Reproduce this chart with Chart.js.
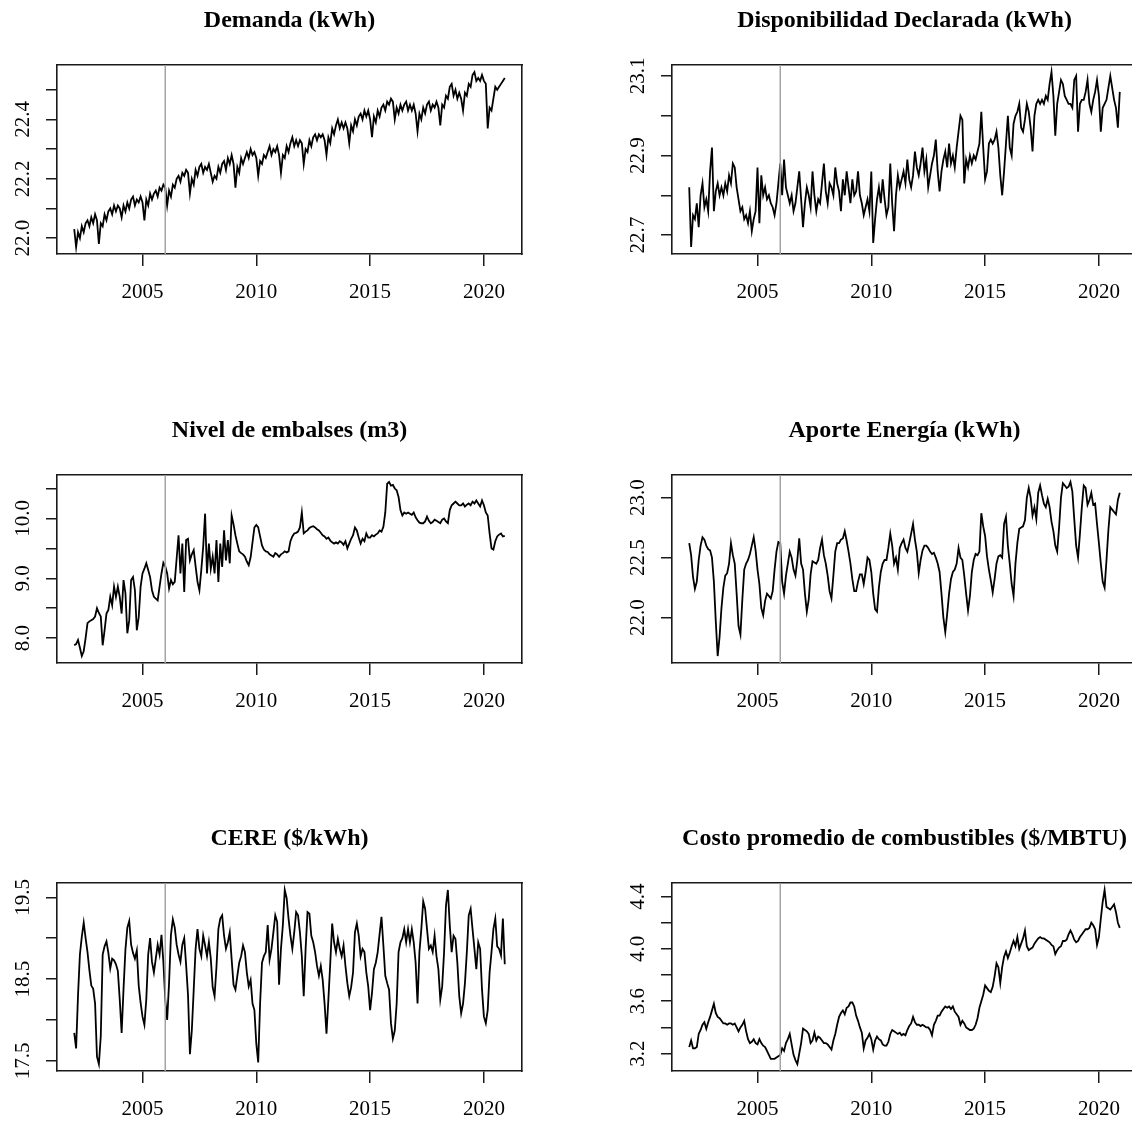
<!DOCTYPE html>
<html>
<head>
<meta charset="utf-8">
<script src="https://cdn.jsdelivr.net/npm/chart.js@4.4.1/dist/chart.umd.min.js"></script>
<style>
  html, body { margin: 0; padding: 0; background: #ffffff; overflow: hidden; width: 1132px; height: 1125px; }
  .panel { position: absolute; }
  .panel canvas { display: block; }
</style>
</head>
<body>
<div class="panel" id="p0"><canvas id="c0"></canvas></div>
<div class="panel" id="p1"><canvas id="c1"></canvas></div>
<div class="panel" id="p2"><canvas id="c2"></canvas></div>
<div class="panel" id="p3"><canvas id="c3"></canvas></div>
<div class="panel" id="p4"><canvas id="c4"></canvas></div>
<div class="panel" id="p5"><canvas id="c5"></canvas></div>
<script>
// ---------------- DATA ----------------
const startYear = 2002;          // first observation: January 2002
const monthsPerYear = 12;        // monthly series
const referenceYear = 2006;      // grey vertical reference line
const xTickValues = [2005, 2010, 2015, 2020];

const titles = [
  "Demanda (kWh)",
  "Disponibilidad Declarada (kWh)",
  "Nivel de embalses (m3)",
  "Aporte Energía (kWh)",
  "CERE ($/kWh)",
  "Costo promedio de combustibles ($/MBTU)"
];

const demanda = [
  22.03,21.97,22.02,22.00,22.04,22.02,22.05,22.06,22.04,22.07,22.05,22.08,
  22.06,21.98,22.05,22.04,22.08,22.06,22.09,22.10,22.08,22.11,22.09,22.11,
  22.10,22.07,22.11,22.09,22.12,22.10,22.13,22.14,22.11,22.13,22.12,22.14,
  22.12,22.06,22.13,22.11,22.15,22.13,22.15,22.16,22.14,22.17,22.16,22.18,
  22.17,22.11,22.16,22.14,22.18,22.17,22.20,22.21,22.19,22.22,22.21,22.23,
  22.22,22.15,22.20,22.18,22.23,22.21,22.24,22.25,22.22,22.24,22.23,22.25,
  22.22,22.19,22.21,22.20,22.24,22.22,22.25,22.26,22.23,22.27,22.25,22.28,
  22.25,22.17,22.24,22.22,22.27,22.25,22.27,22.29,22.27,22.30,22.28,22.29,
  22.27,22.21,22.26,22.25,22.28,22.27,22.29,22.31,22.28,22.30,22.29,22.31,
  22.28,22.22,22.28,22.27,22.31,22.29,22.32,22.34,22.31,22.33,22.31,22.33,
  22.32,22.25,22.30,22.29,22.33,22.31,22.34,22.35,22.33,22.35,22.34,22.35,
  22.33,22.28,22.34,22.32,22.37,22.35,22.38,22.40,22.37,22.39,22.37,22.39,
  22.37,22.32,22.38,22.36,22.40,22.38,22.41,22.42,22.40,22.43,22.41,22.43,
  22.40,22.34,22.41,22.39,22.43,22.41,22.44,22.45,22.43,22.46,22.45,22.47,
  22.46,22.40,22.44,22.42,22.45,22.43,22.45,22.46,22.43,22.45,22.43,22.45,
  22.42,22.36,22.42,22.40,22.44,22.42,22.45,22.46,22.43,22.45,22.44,22.46,
  22.44,22.38,22.45,22.44,22.48,22.47,22.51,22.52,22.48,22.50,22.47,22.49,
  22.47,22.43,22.49,22.48,22.52,22.51,22.55,22.56,22.53,22.54,22.53,22.55,
  22.53,22.52,22.37,22.44,22.43,22.47,22.51,22.50,22.51,22.52,22.53,22.54
];

const disponibilidad = [
  22.82,22.67,22.75,22.74,22.78,22.72,22.80,22.83,22.77,22.79,22.76,22.86,
  22.92,22.76,22.81,22.83,22.80,22.82,22.80,22.83,22.81,22.85,22.83,22.88,
  22.87,22.82,22.79,22.76,22.77,22.74,22.75,22.73,22.76,22.71,22.74,22.76,
  22.87,22.73,22.85,22.80,22.82,22.79,22.80,22.78,22.77,22.75,22.78,22.83,
  22.88,22.80,22.89,22.82,22.80,22.78,22.80,22.76,22.78,22.82,22.86,22.79,
  22.72,22.78,22.82,22.80,22.77,22.86,22.80,22.76,22.79,22.78,22.83,22.88,
  22.81,22.78,22.83,22.82,22.80,22.87,22.83,22.81,22.76,22.84,22.80,22.86,
  22.82,22.78,22.84,22.80,22.81,22.86,22.80,22.78,22.75,22.77,22.79,22.76,
  22.86,22.68,22.74,22.79,22.82,22.78,22.84,22.79,22.75,22.77,22.88,22.78,
  22.71,22.80,22.85,22.82,22.84,22.86,22.83,22.89,22.84,22.82,22.85,22.91,
  22.87,22.85,22.88,22.92,22.86,22.89,22.82,22.85,22.88,22.90,22.94,22.86,
  22.81,22.86,22.89,22.91,22.87,22.93,22.88,22.90,22.87,22.92,22.96,23.00,
  22.99,22.83,22.89,22.87,22.90,22.88,22.90,22.89,22.91,22.93,23.01,22.92,
  22.84,22.86,22.93,22.94,22.93,22.94,22.96,22.92,22.85,22.80,22.86,22.93,
  23.00,22.92,22.90,22.98,23.00,23.01,23.03,22.97,22.96,22.99,23.03,23.01,
  22.97,22.91,23.00,23.03,23.04,23.03,23.04,23.03,23.05,23.04,23.08,23.11,
  23.05,22.95,23.03,23.06,23.09,23.08,23.05,23.04,23.03,23.03,23.02,23.09,
  23.10,22.96,23.03,23.04,23.04,23.06,23.09,23.03,23.01,23.04,23.06,23.09,
  23.05,22.96,23.02,23.03,23.04,23.07,23.10,23.07,23.04,23.02,22.97,23.06
];

const nivelEmbalses = [
  7.88,7.90,7.97,7.84,7.70,7.78,8.00,8.25,8.28,8.30,8.32,8.36,
  8.50,8.42,8.36,7.88,8.13,8.41,8.47,8.69,8.55,8.86,8.69,8.86,
  8.69,8.41,8.97,8.75,8.08,8.30,8.97,9.02,8.80,8.13,8.35,8.86,
  9.08,9.16,9.25,9.14,9.02,8.80,8.69,8.66,8.63,8.86,9.08,9.26,
  9.20,9.08,8.83,8.97,8.90,8.94,9.33,9.72,9.08,9.58,8.77,9.64,
  9.66,9.30,9.40,9.47,9.20,8.94,8.80,9.14,9.53,10.08,9.08,9.58,
  9.16,9.36,9.08,9.64,8.94,9.58,9.19,9.80,9.30,9.64,9.25,10.05,
  9.90,9.72,9.58,9.45,9.42,9.40,9.36,9.28,9.22,9.35,9.60,9.85,
  9.89,9.85,9.70,9.55,9.48,9.45,9.44,9.40,9.38,9.36,9.42,9.40,
  9.36,9.40,9.42,9.45,9.43,9.45,9.62,9.70,9.75,9.76,9.78,9.85,
  10.10,9.75,9.78,9.80,9.84,9.86,9.87,9.85,9.82,9.80,9.76,9.72,
  9.70,9.66,9.68,9.63,9.60,9.58,9.60,9.58,9.62,9.60,9.56,9.62,
  9.50,9.58,9.66,9.72,9.85,9.80,9.68,9.58,9.66,9.62,9.75,9.68,
  9.68,9.72,9.70,9.73,9.75,9.80,9.78,9.86,10.10,10.58,10.61,10.55,
  10.56,10.50,10.47,10.36,10.14,10.05,10.10,10.08,10.10,10.08,10.06,10.10,
  10.02,9.97,9.93,9.92,9.92,9.95,10.03,9.96,9.92,9.94,9.98,9.96,
  9.94,9.92,9.98,10.00,9.95,9.92,10.14,10.22,10.25,10.28,10.25,10.22,
  10.22,10.25,10.20,10.23,10.25,10.22,10.28,10.25,10.30,10.25,10.20,10.30,
  10.22,10.10,10.05,9.75,9.50,9.48,9.62,9.70,9.73,9.75,9.70,9.71
];

const aporteEnergia = [
  22.62,22.52,22.34,22.24,22.30,22.48,22.60,22.67,22.65,22.60,22.57,22.56,
  22.50,22.30,21.97,21.68,21.84,22.08,22.25,22.35,22.37,22.45,22.62,22.52,
  22.45,22.20,21.93,21.86,22.15,22.40,22.45,22.48,22.53,22.60,22.67,22.56,
  22.40,22.28,22.08,22.02,22.14,22.20,22.18,22.16,22.22,22.40,22.55,22.63,
  22.62,22.30,22.20,22.35,22.45,22.55,22.50,22.40,22.35,22.48,22.66,22.45,
  22.40,22.20,22.05,22.15,22.36,22.47,22.46,22.45,22.48,22.58,22.65,22.52,
  22.45,22.35,22.22,22.16,22.35,22.55,22.62,22.62,22.65,22.66,22.72,22.64,
  22.55,22.45,22.32,22.22,22.22,22.30,22.36,22.36,22.28,22.38,22.50,22.48,
  22.38,22.20,22.07,22.05,22.25,22.38,22.45,22.48,22.48,22.58,22.70,22.60,
  22.45,22.50,22.40,22.58,22.62,22.65,22.58,22.55,22.62,22.70,22.78,22.65,
  22.55,22.37,22.48,22.56,22.60,22.60,22.58,22.55,22.53,22.54,22.50,22.45,
  22.38,22.20,22.00,21.88,22.03,22.20,22.32,22.38,22.40,22.45,22.58,22.50,
  22.48,22.35,22.20,22.06,22.18,22.38,22.48,22.53,22.52,22.55,22.87,22.76,
  22.68,22.51,22.40,22.31,22.21,22.32,22.45,22.51,22.52,22.50,22.78,22.84,
  22.60,22.45,22.28,22.18,22.45,22.62,22.74,22.75,22.76,22.81,23.00,23.08,
  23.00,22.85,22.92,22.82,23.04,23.10,23.02,22.95,22.92,22.99,22.92,22.80,
  22.72,22.60,22.55,22.75,23.00,23.12,23.10,23.08,23.09,23.13,23.05,22.82,
  22.60,22.50,22.70,22.92,23.10,23.08,22.94,22.98,23.04,22.94,22.95,22.78,
  22.62,22.45,22.30,22.25,22.48,22.73,22.92,22.90,22.88,22.86,22.98,23.04
];

const cere = [
  17.84,17.65,18.30,18.80,19.02,19.19,19.00,18.83,18.61,18.42,18.38,18.20,
  17.55,17.46,17.80,18.80,18.90,18.96,18.82,18.63,18.75,18.73,18.68,18.60,
  18.25,17.84,18.38,18.86,19.13,19.21,18.92,18.82,18.75,18.85,18.42,18.21,
  18.04,17.94,18.25,18.80,19.00,18.71,18.58,18.75,18.92,18.80,19.04,18.71,
  18.25,18.00,18.45,19.04,19.23,19.13,18.92,18.80,18.71,18.92,19.00,18.67,
  18.30,17.58,17.87,18.37,18.87,19.11,18.87,18.78,19.03,18.91,18.78,18.95,
  18.75,18.40,18.29,18.65,19.11,19.24,19.28,19.03,18.87,18.95,19.07,18.74,
  18.43,18.37,18.54,18.70,18.78,18.91,18.83,18.58,18.41,18.49,18.20,18.12,
  17.71,17.48,18.20,18.70,18.78,18.83,19.16,18.74,18.87,19.07,19.28,19.20,
  18.43,18.87,19.16,19.59,19.49,19.24,19.03,18.87,19.07,19.32,19.28,19.07,
  18.78,18.29,18.87,19.32,19.30,19.03,18.95,18.83,18.66,18.54,18.66,18.49,
  18.20,17.83,18.25,18.70,19.18,18.95,18.83,18.99,18.87,18.78,18.91,18.66,
  18.45,18.29,18.40,18.58,19.07,19.18,19.03,18.78,18.87,18.83,18.58,18.41,
  18.12,18.33,18.62,18.70,18.83,19.05,19.26,18.91,18.54,18.45,18.37,17.96,
  17.77,17.87,18.20,18.83,18.95,19.00,19.11,18.95,19.11,18.95,19.11,18.95,
  18.70,18.20,18.83,19.11,19.45,19.36,19.11,18.87,18.91,18.83,19.03,18.78,
  18.62,18.25,18.41,18.83,19.40,19.59,19.16,18.83,19.03,18.99,18.70,18.29,
  18.08,18.20,18.45,18.83,19.28,19.36,19.11,18.87,18.62,18.95,18.87,18.37,
  18.04,17.96,18.12,18.58,18.83,19.11,19.24,18.90,18.87,18.79,19.24,18.68
];

const costoCombustibles = [
  3.25,3.30,3.24,3.24,3.25,3.35,3.38,3.42,3.44,3.39,3.44,3.48,
  3.53,3.58,3.51,3.48,3.47,3.45,3.43,3.43,3.42,3.43,3.43,3.42,
  3.43,3.40,3.37,3.40,3.42,3.45,3.37,3.31,3.28,3.29,3.31,3.28,
  3.27,3.31,3.28,3.26,3.25,3.22,3.19,3.16,3.16,3.16,3.17,3.18,
  3.19,3.24,3.22,3.28,3.31,3.35,3.27,3.19,3.15,3.12,3.20,3.28,
  3.39,3.38,3.37,3.35,3.28,3.30,3.36,3.30,3.33,3.32,3.30,3.28,
  3.28,3.27,3.25,3.23,3.30,3.35,3.42,3.48,3.51,3.53,3.50,3.55,
  3.56,3.59,3.59,3.56,3.49,3.45,3.40,3.36,3.24,3.30,3.32,3.35,
  3.31,3.23,3.30,3.33,3.31,3.30,3.27,3.26,3.26,3.29,3.35,3.38,
  3.37,3.36,3.35,3.36,3.34,3.35,3.34,3.38,3.41,3.43,3.48,3.44,
  3.42,3.42,3.41,3.42,3.41,3.40,3.40,3.38,3.34,3.42,3.45,3.49,
  3.49,3.52,3.54,3.56,3.55,3.56,3.54,3.56,3.52,3.50,3.48,3.42,
  3.45,3.43,3.40,3.39,3.38,3.38,3.39,3.42,3.47,3.55,3.60,3.65,
  3.72,3.70,3.68,3.67,3.71,3.79,3.89,3.86,3.74,3.86,3.94,3.98,
  3.93,3.97,4.02,4.06,4.02,4.09,4.00,4.04,4.08,4.14,4.02,3.99,
  4.00,4.01,4.04,4.06,4.08,4.09,4.08,4.08,4.07,4.06,4.05,4.03,
  4.02,3.96,3.99,4.01,4.02,4.06,4.06,4.07,4.11,4.14,4.11,4.07,
  4.05,4.06,4.09,4.11,4.13,4.15,4.15,4.16,4.20,4.18,4.15,4.03,
  4.09,4.23,4.36,4.45,4.32,4.31,4.30,4.32,4.34,4.28,4.20,4.16
];

// y-axis tick positions and the subset R prints as labels
const demandaYTicks = [22.0, 22.1, 22.2, 22.3, 22.4, 22.5];
const demandaYLabels = ["22.0", "22.2", "22.4"];
const disponibilidadYTicks = [22.7, 22.8, 22.9, 23.0, 23.1];
const disponibilidadYLabels = ["22.7", "22.9", "23.1"];
const nivelYTicks = [8.0, 8.5, 9.0, 9.5, 10.0, 10.5];
const nivelYLabels = ["8.0", "9.0", "10.0"];
const aporteYTicks = [22.0, 22.5, 23.0];
const aporteYLabels = ["22.0", "22.5", "23.0"];
const cereYTicks = [17.5, 18.0, 18.5, 19.0, 19.5];
const cereYLabels = ["17.5", "18.5", "19.5"];
const costoYTicks = [3.2, 3.4, 3.6, 3.8, 4.0, 4.2, 4.4];
const costoYLabels = ["3.2", "3.6", "4.0", "4.4"];

// ---------------- LAYOUT / STYLE ----------------
const FONT = "'Liberation Serif', 'Times New Roman', serif";
const TICK_SIZE = 21;
const TITLE_SIZE = 24;
const SIDE = 57;          // width of left axis block (and mirrored right block)
const BOX_W = 465;        // plot box width
const TITLE_BLOCK = 65;   // title block height above the box
const BOTTOM = 60;        // bottom axis block
const Y_LABEL_GAP = 33.4; // distance from box edge to y label centre
const Y_TICK_LEN = 11;
const X_TICK_LEN = 12;
const INK = '#1a1a1a';

Chart.defaults.font.family = FONT;
Chart.defaults.color = '#000';

function widestLabel(labels) {
  const c = document.createElement('canvas').getContext('2d');
  c.font = TICK_SIZE + 'px ' + FONT;
  return Math.max(...labels.map(l => c.measureText(l).width));
}

function rangeWithPad(lo, hi) {
  const p = (hi - lo) * 0.04;   // R's default axis extension
  return [lo - p, hi + p];
}

const panels = [
  { id: 'c0', wrap: 'p0', left: 0,   top: 0,   boxH: 189, title: titles[0], values: demanda,           yTicks: demandaYTicks,        yLabels: demandaYLabels },
  { id: 'c1', wrap: 'p1', left: 615, top: 0,   boxH: 189, title: titles[1], values: disponibilidad,    yTicks: disponibilidadYTicks, yLabels: disponibilidadYLabels },
  { id: 'c2', wrap: 'p2', left: 0,   top: 410, boxH: 188, title: titles[2], values: nivelEmbalses,     yTicks: nivelYTicks,          yLabels: nivelYLabels },
  { id: 'c3', wrap: 'p3', left: 615, top: 410, boxH: 188, title: titles[3], values: aporteEnergia,     yTicks: aporteYTicks,         yLabels: aporteYLabels },
  { id: 'c4', wrap: 'p4', left: 0,   top: 818, boxH: 188, title: titles[4], values: cere,              yTicks: cereYTicks,           yLabels: cereYLabels },
  { id: 'c5', wrap: 'p5', left: 615, top: 818, boxH: 188, title: titles[5], values: costoCombustibles, yTicks: costoYTicks,          yLabels: costoYLabels }
];

panels.forEach(p => {
  const wrap = document.getElementById(p.wrap);
  wrap.style.left = p.left + 'px';
  wrap.style.top = p.top + 'px';
  const canvas = document.getElementById(p.id);
  canvas.width = SIDE * 2 + BOX_W;
  canvas.height = TITLE_BLOCK + p.boxH + BOTTOM;

  const n = p.values.length;
  const xs = p.values.map((v, i) => startYear + i / monthsPerYear);
  const [xMin, xMax] = rangeWithPad(xs[0], xs[n - 1]);
  const [yMin, yMax] = rangeWithPad(Math.min(...p.values), Math.max(...p.values));
  const yPadding = Y_LABEL_GAP - Y_TICK_LEN - widestLabel(p.yLabels) / 2;

  new Chart(canvas, {
    type: 'line',
    data: {
      datasets: [
        {
          label: 'ref',
          data: [{ x: referenceYear, y: yMin }, { x: referenceYear, y: yMax }],
          borderColor: '#a3a3a3',
          borderWidth: 1.5,
          pointRadius: 0,
          order: 0
        },
        {
          label: p.title,
          data: p.values.map((v, i) => ({ x: xs[i], y: v })),
          borderColor: '#000000',
          borderWidth: 1.8,
          pointRadius: 0,
          tension: 0,
          fill: false,
          order: 1
        }
      ]
    },
    options: {
      responsive: false,
      animation: false,
      devicePixelRatio: 1,
      layout: { padding: 0 },
      plugins: {
        legend: { display: false },
        tooltip: { enabled: false },
        title: {
          display: true,
          text: p.title,
          color: '#000',
          font: { family: FONT, size: TITLE_SIZE, weight: 'bold', lineHeight: 1.2 },
          padding: { top: 6, bottom: TITLE_BLOCK - 6 - TITLE_SIZE * 1.2 }
        }
      },
      scales: {
        x: {
          type: 'linear',
          position: 'bottom',
          min: xMin,
          max: xMax,
          afterBuildTicks: s => { s.ticks = xTickValues.map(v => ({ value: v })); },
          afterFit: s => { s.height = BOTTOM; },
          ticks: {
            autoSkip: false,
            maxRotation: 0,
            minRotation: 0,
            padding: 14,
            color: '#000',
            font: { family: FONT, size: TICK_SIZE },
            callback: v => String(v)
          },
          grid: { display: true, drawOnChartArea: false, drawTicks: true, tickLength: X_TICK_LEN, color: INK, lineWidth: 1.5 },
          border: { display: true, color: INK, width: 1.6 }
        },
        y: {
          type: 'linear',
          position: 'left',
          min: yMin,
          max: yMax,
          afterBuildTicks: s => { s.ticks = p.yTicks.map(v => ({ value: v })); },
          afterFit: s => { s.width = SIDE; },
          ticks: {
            autoSkip: false,
            minRotation: 90,
            maxRotation: 90,
            crossAlign: 'center',
            padding: yPadding,
            color: '#000',
            font: { family: FONT, size: TICK_SIZE },
            callback: v => { const t = Number(v).toFixed(1); return p.yLabels.includes(t) ? t : ''; }
          },
          grid: { display: true, drawOnChartArea: false, drawTicks: true, tickLength: Y_TICK_LEN, color: INK, lineWidth: 1.5 },
          border: { display: true, color: INK, width: 1.6 }
        },
        x2: {
          type: 'linear',
          position: 'top',
          display: true,
          afterFit: s => { s.height = 0; },
          ticks: { display: false },
          grid: { display: false },
          border: { display: true, color: INK, width: 1.6 }
        },
        y2: {
          type: 'linear',
          position: 'right',
          display: true,
          afterFit: s => { s.width = SIDE; },
          ticks: { display: false },
          grid: { display: false },
          border: { display: true, color: INK, width: 1.6 }
        }
      }
    }
  });
});
</script>
</body>
</html>
